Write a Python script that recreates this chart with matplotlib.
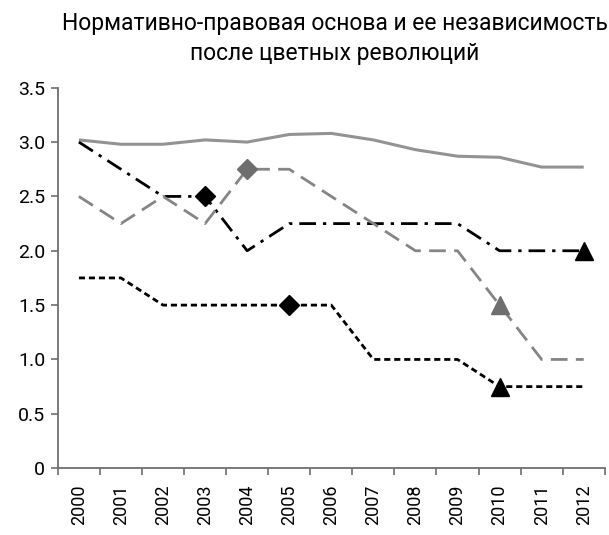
import matplotlib
matplotlib.use('Agg')
import matplotlib.pyplot as plt
import numpy as np

plt.rcParams['font.family'] = ['Roboto', 'DejaVu Sans']

# ---- data ----
years = ['2000', '2001', '2002', '2003', '2004', '2005', '2006',
         '2007', '2008', '2009', '2010', '2011', '2012']
solid_gray = [3.02, 2.98, 2.98, 3.02, 3.00, 3.07, 3.08, 3.02, 2.93, 2.87, 2.86, 2.77, 2.77]
dashdot_black = [3.00, 2.75, 2.50, 2.50, 2.00, 2.25, 2.25, 2.25, 2.25, 2.25, 2.00, 2.00, 2.00]
dashed_gray = [2.50, 2.25, 2.50, 2.25, 2.75, 2.75, 2.50, 2.25, 2.00, 2.00, 1.50, 1.00, 1.00]
dotted_black = [1.75, 1.75, 1.50, 1.50, 1.50, 1.50, 1.50, 1.00, 1.00, 1.00, 0.75, 0.75, 0.75]

# years (index) where a marker is placed on a line
dashdot_diamond = [3]
dashdot_triangle = [12]
dashed_diamond = [4]
dashed_triangle = [10]
dotted_diamond = [5]
dotted_triangle = [10]

yticks = [0, 0.5, 1.0, 1.5, 2.0, 2.5, 3.0, 3.5]
ytick_labels = ['0', '0.5', '1.0', '1.5', '2.0', '2.5', '3.0', '3.5']

GRAY = '#939393'
DGRAY = '#6e6e6e'
x = np.arange(len(years))

fig = plt.figure(figsize=(6.09, 5.35), dpi=100)
ax = fig.add_axes([0.095, 0.125, 0.898, 0.711])

ax.plot(x, solid_gray, color=GRAY, linewidth=2.2, solid_capstyle='butt')
ax.plot(x, dashdot_black, color='black', linewidth=2.0, dashes=(6, 2.5, 1.2, 2.5))
ax.plot(x, dashed_gray, color='#858585', linewidth=2.0, dashes=(6, 3))
ax.plot(x, dotted_black, color='black', linewidth=2.0, dashes=(2.2, 1.4))

def marks(idx, vals, marker, color, size):
    ax.plot(x[idx], np.array(vals)[idx], linestyle='none', marker=marker,
            color=color, markersize=size, zorder=5)

marks(dashdot_diamond, dashdot_black, 'D', 'black', 10)
marks(dashdot_triangle, dashdot_black, '^', 'black', 13)
marks(dashed_diamond, dashed_gray, 'D', DGRAY, 10)
marks(dashed_triangle, dashed_gray, '^', DGRAY, 13)
marks(dotted_diamond, dotted_black, 'D', 'black', 10)
marks(dotted_triangle, dotted_black, '^', 'black', 13)

ax.set_xlim(-0.5, len(years) - 0.5)
ax.set_ylim(0, 3.5)
ax.set_yticks(yticks)
ax.set_yticklabels(ytick_labels, fontsize=14)
ax.set_xticks(x)
ax.set_xticklabels(years, rotation=90, fontsize=13)
ax.set_xticks(np.arange(len(years) + 1) - 0.5, minor=True)
ax.tick_params(axis='x', which='major', length=0, pad=12)
ax.tick_params(axis='x', which='minor', length=5, width=1.2, color=DGRAY, direction='out')
ax.tick_params(axis='y', length=5, width=1.2, color=DGRAY, direction='out', pad=4)

for s in ['top', 'right']:
    ax.spines[s].set_visible(False)
for s in ['left', 'bottom']:
    ax.spines[s].set_color(DGRAY)
    ax.spines[s].set_linewidth(1.3)

fig.text(0.55, 0.978, 'Нормативно-правовая основа и ее независимость\nпосле цветных революций',
         ha='center', va='top', fontsize=16.5, linespacing=1.4)

fig.savefig('out.png', dpi=100, facecolor='white')
